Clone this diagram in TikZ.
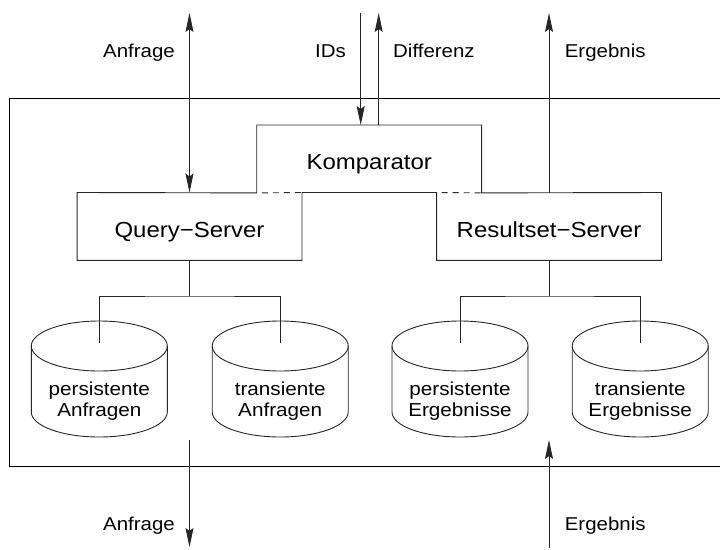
\documentclass[tikz,border=0pt]{standalone}
\usepackage{fontspec}
\setmainfont{Liberation Sans}[FakeStretch=1.1]
\usetikzlibrary{arrows.meta,calc}
\newcommand\mycyl[1]{%
  \draw[line] (#1-68,346) -- (#1-68,412) arc[start angle=180,end angle=0,x radius=68,y radius=25] -- (#1+68,346);
  \draw[line] (#1,346) ellipse[x radius=68,y radius=25];
}
\begin{document}
\begin{tikzpicture}[x=1pt,y=-1pt,
  line/.style={line width=0.9pt,draw=black!85},
  tip/.tip={Stealth[length=19pt,width=8pt,inset=3pt]},
  arr/.style={line,-tip},
  dashedline/.style={line,dash pattern=on 6pt off 5pt,dash phase=-5pt},
  boxtext/.style={font=\fontsize{21.8}{26}\selectfont,inner sep=0pt,text height=24pt,text depth=2pt,minimum width=224.5pt,minimum height=67.5pt},
  lbl/.style={font=\fontsize{18.6}{22}\selectfont,inner sep=0pt},
  cyltext/.style={font=\fontsize{18.8}{21}\selectfont,align=center,inner sep=0pt}]
\useasboundingbox (0,0) rectangle (720,549);
% outer frame
\draw[line,draw=black] (720,98.3) -- (9.5,98.3) -- (9.5,466.7) -- (720,466.7);
% boxes
\node[boxtext] (K) at (369.2,158.95) {Komparator};
\node[boxtext] (Q) at (189.5,226.45) {Query−Server};
\node[boxtext] (R) at (549,226.45) {Resultset−Server};
\draw[line] (K.south west) -- (Q.north west) -- (Q.south west) -- (Q.south east) -- (Q.north east)
  -- (R.north west) -- (R.south west) -- (R.south east) -- (R.north east) -- (K.south east)
  -- (K.north east) -- (K.north west) -- cycle;
\draw[dashedline] (K.south west) -- (Q.north east);
\draw[dashedline] (R.north west) -- (K.south east);
% cylinders
\mycyl{99.3}
\mycyl{280.2}
\mycyl{460}
\mycyl{640.2}
\coordinate (c1top) at (99.3,343);
\coordinate (c2top) at (280.2,343);
\coordinate (c3top) at (460,343);
\coordinate (c4top) at (640.2,343);
\node[cyltext] (c1) at (99.3,401) {persistente\\Anfragen};
\node[cyltext] (c2) at (280.2,401) {transiente\\Anfragen};
\node[cyltext] (c3) at (460,401) {persistente\\Ergebnisse};
\node[cyltext] (c4) at (640.2,401) {transiente\\Ergebnisse};
% trees
\coordinate (qfork) at (Q.south |- 0,296);
\coordinate (rfork) at (R.south |- 0,296);
\draw[line] (Q.south) -- (qfork);
\draw[line] (c1top) |- (qfork) -| (c2top);
\draw[line] (R.south) -- (rfork);
\draw[line] (c3top) |- (rfork) -| (c4top);
% top arrows
\coordinate (anfTop) at (Q.north |- 0,13);
\draw[line,tip-tip] (anfTop) -- (Q.north);
\coordinate (idsTop) at (360.7,13);
\coordinate (idsEnd) at (idsTop |- K.north);
\draw[arr] (idsTop) -- (idsEnd);
\coordinate (difStart) at (378.7,125);
\coordinate (difTop) at (difStart |- 0,13);
\draw[arr] (difStart) -- (difTop);
\coordinate (ergTop) at (R.north |- 0,13);
\draw[arr] (R.north) -- (ergTop);
% bottom arrows
\coordinate (banfStart) at (Q.south |- 0,440);
\coordinate (banfEnd) at (Q.south |- 0,547);
\draw[arr] (banfStart) -- (banfEnd);
\coordinate (bergStart) at (R.south |- 0,548);
\coordinate (bergEnd) at (R.south |- 0,440);
\draw[arr] (bergStart) -- (bergEnd);
% labels
\node[lbl,anchor=base east] (lAnf) at (175,57.5) {Anfrage};
\node[lbl,anchor=base east] (lIDs) at (346,57.5) {IDs};
\node[lbl,anchor=base west] (lDif) at (393,57.5) {Differenz};
\node[lbl,anchor=base west] (lErg) at (564.6,57.5) {Ergebnis};
\node[lbl,anchor=base east] (lbAnf) at (175,530) {Anfrage};
\node[lbl,anchor=base west] (lbErg) at (564.6,530) {Ergebnis};
\end{tikzpicture}
\end{document}
